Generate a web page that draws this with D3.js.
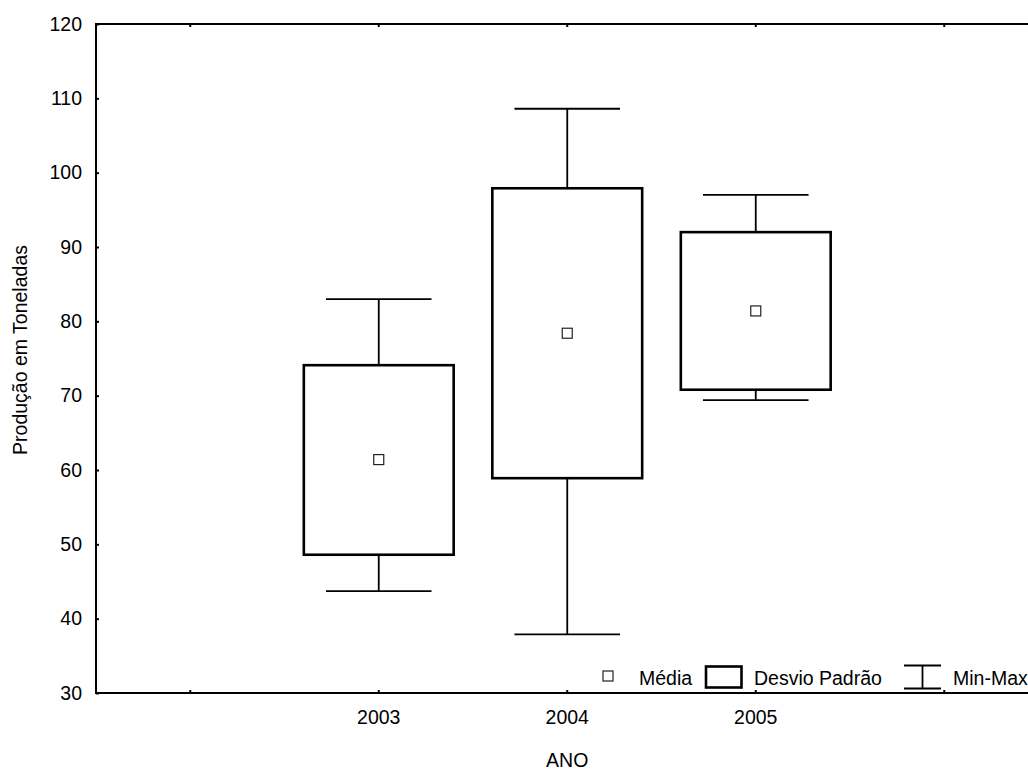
<html lang='pt'>
    <head>
        <script src="https://d3js.org/d3.v7.min.js" charset="utf-8"></script>
        <style>
        body { margin: 0; background: #fff; }
        svg text { font-family: 'Liberation Sans', Arial, sans-serif; fill: #000; }
        </style>
    </head>
    <body>
        <script>
            // data
            var slots = ["", "2003", "2004", "2005", ""]
            var years = ["2003", "2004", "2005"]
            var means = [61.4, 78.4, 81.4]
            var sdLow = [48.6, 58.9, 70.8]
            var sdHigh = [74.1, 97.9, 92.0]
            var mins = [43.7, 37.9, 69.4]
            var maxs = [83.0, 108.6, 97.0]
            var yTicks = [30, 40, 50, 60, 70, 80, 90, 100, 110, 120]

            var width = 1028
            var height = 769
            // plot edges (window.top is reserved, so prefixed names)
            var plotL = 96, plotT = 24, plotR = 1038.5, plotB = 693
            var fontSize = 19.5

            var svg = d3.select("body")
                        .append("svg")
                        .attr("width", width)
                        .attr("height", height)

            var x = d3.scaleBand()
                .domain(d3.range(slots.length))
                .range([plotL, plotR])
                .padding(0)

            var y = d3.scaleLinear()
                .domain([30, 120])
                .range([plotB, plotT])

            function cx(year) {
                var i = slots.indexOf(year)
                return x(i) + x.bandwidth() / 2
            }

            // axes, ticks pointing inward
            var xAxis = d3.axisBottom(x)
                .tickSize(-3)
                .tickSizeOuter(0)
                .tickPadding(17)
                .tickFormat(function(i) { return slots[i] })

            svg.append("g")
                .attr("transform", "translate(0," + plotB + ")")
                .call(xAxis)

            svg.append("g")
                .attr("transform", "translate(0," + plotT + ")")
                .call(d3.axisTop(x).tickSize(-3).tickSizeOuter(0).tickFormat(""))

            svg.append("g")
                .attr("transform", "translate(" + plotL + ",0)")
                .call(d3.axisLeft(y).tickValues(yTicks).tickSize(-3).tickSizeOuter(0).tickPadding(14))

            svg.append("g")
                .attr("transform", "translate(" + plotR + ",0)")
                .call(d3.axisRight(y).tickValues(yTicks).tickSize(-3).tickSizeOuter(0).tickFormat(""))

            svg.selectAll(".domain").remove()
            svg.selectAll(".tick line").attr("stroke", "#000").attr("stroke-width", 2)
            svg.selectAll(".tick text")
                .style("font-size", fontSize + "px")
                .attr("fill", "#000")

            // frame
            svg.append("rect")
                .attr("x", plotL)
                .attr("y", plotT)
                .attr("width", plotR - plotL)
                .attr("height", plotB - plotT)
                .attr("fill", "none")
                .attr("stroke", "#000")
                .attr("stroke-width", 2)

            var boxW = x.bandwidth() * 0.795
            var capW = x.bandwidth() * 0.56

            var groups = svg.selectAll(".box")
                .data(years)
                .enter()
                .append("g")
                .attr("class", "box")

            // whisker stems
            groups.append("line")
                .attr("x1", function(d) { return cx(d) })
                .attr("x2", function(d) { return cx(d) })
                .attr("y1", function(d, i) { return y(maxs[i]) })
                .attr("y2", function(d, i) { return y(mins[i]) })
                .attr("stroke", "#000")
                .attr("stroke-width", 1.8)

            // caps
            groups.append("line")
                .attr("x1", function(d) { return cx(d) - capW / 2 })
                .attr("x2", function(d) { return cx(d) + capW / 2 })
                .attr("y1", function(d, i) { return y(maxs[i]) })
                .attr("y2", function(d, i) { return y(maxs[i]) })
                .attr("stroke", "#000")
                .attr("stroke-width", 1.8)

            groups.append("line")
                .attr("x1", function(d) { return cx(d) - capW / 2 })
                .attr("x2", function(d) { return cx(d) + capW / 2 })
                .attr("y1", function(d, i) { return y(mins[i]) })
                .attr("y2", function(d, i) { return y(mins[i]) })
                .attr("stroke", "#000")
                .attr("stroke-width", 1.8)

            // sd boxes
            groups.append("rect")
                .attr("x", function(d) { return cx(d) - boxW / 2 })
                .attr("y", function(d, i) { return y(sdHigh[i]) })
                .attr("width", boxW)
                .attr("height", function(d, i) { return y(sdLow[i]) - y(sdHigh[i]) })
                .attr("fill", "#fff")
                .attr("stroke", "#000")
                .attr("stroke-width", 2.6)

            // mean markers
            groups.append("rect")
                .attr("x", function(d) { return cx(d) - 5 })
                .attr("y", function(d, i) { return y(means[i]) - 5 })
                .attr("width", 10)
                .attr("height", 10)
                .attr("fill", "#fff")
                .attr("stroke", "#222")
                .attr("stroke-width", 1.2)

            // axis titles
            svg.append("text")
                .attr("x", (plotL + plotR) / 2)
                .attr("y", 767)
                .attr("text-anchor", "middle")
                .style("font-size", fontSize + "px")
                .text("ANO")

            svg.append("text")
                .attr("transform", "translate(27,350) rotate(-90)")
                .attr("text-anchor", "middle")
                .style("font-size", fontSize + "px")
                .text("Produção em Toneladas")

            // legend
            var leg = svg.append("g")
            var legBase = 685

            leg.append("rect")
                .attr("x", 603).attr("y", 671)
                .attr("width", 10).attr("height", 10)
                .attr("fill", "#fff").attr("stroke", "#222").attr("stroke-width", 1.2)
            leg.append("text")
                .attr("x", 639).attr("y", legBase)
                .style("font-size", fontSize + "px")
                .text("Média")

            leg.append("rect")
                .attr("x", 706).attr("y", 666.5)
                .attr("width", 35.5).attr("height", 21)
                .attr("fill", "#fff").attr("stroke", "#000").attr("stroke-width", 2.6)
            leg.append("text")
                .attr("x", 754).attr("y", legBase)
                .style("font-size", fontSize + "px")
                .text("Desvio Padrão")

            leg.append("line")
                .attr("x1", 904).attr("x2", 941).attr("y1", 665.5).attr("y2", 665.5)
                .attr("stroke", "#000").attr("stroke-width", 1.8)
            leg.append("line")
                .attr("x1", 904).attr("x2", 941).attr("y1", 688.5).attr("y2", 688.5)
                .attr("stroke", "#000").attr("stroke-width", 1.8)
            leg.append("line")
                .attr("x1", 922.5).attr("x2", 922.5).attr("y1", 665.5).attr("y2", 688.5)
                .attr("stroke", "#000").attr("stroke-width", 1.8)
            leg.append("text")
                .attr("x", 953).attr("y", legBase)
                .style("font-size", fontSize + "px")
                .text("Min-Max")
        </script>
    </body>
</html>
